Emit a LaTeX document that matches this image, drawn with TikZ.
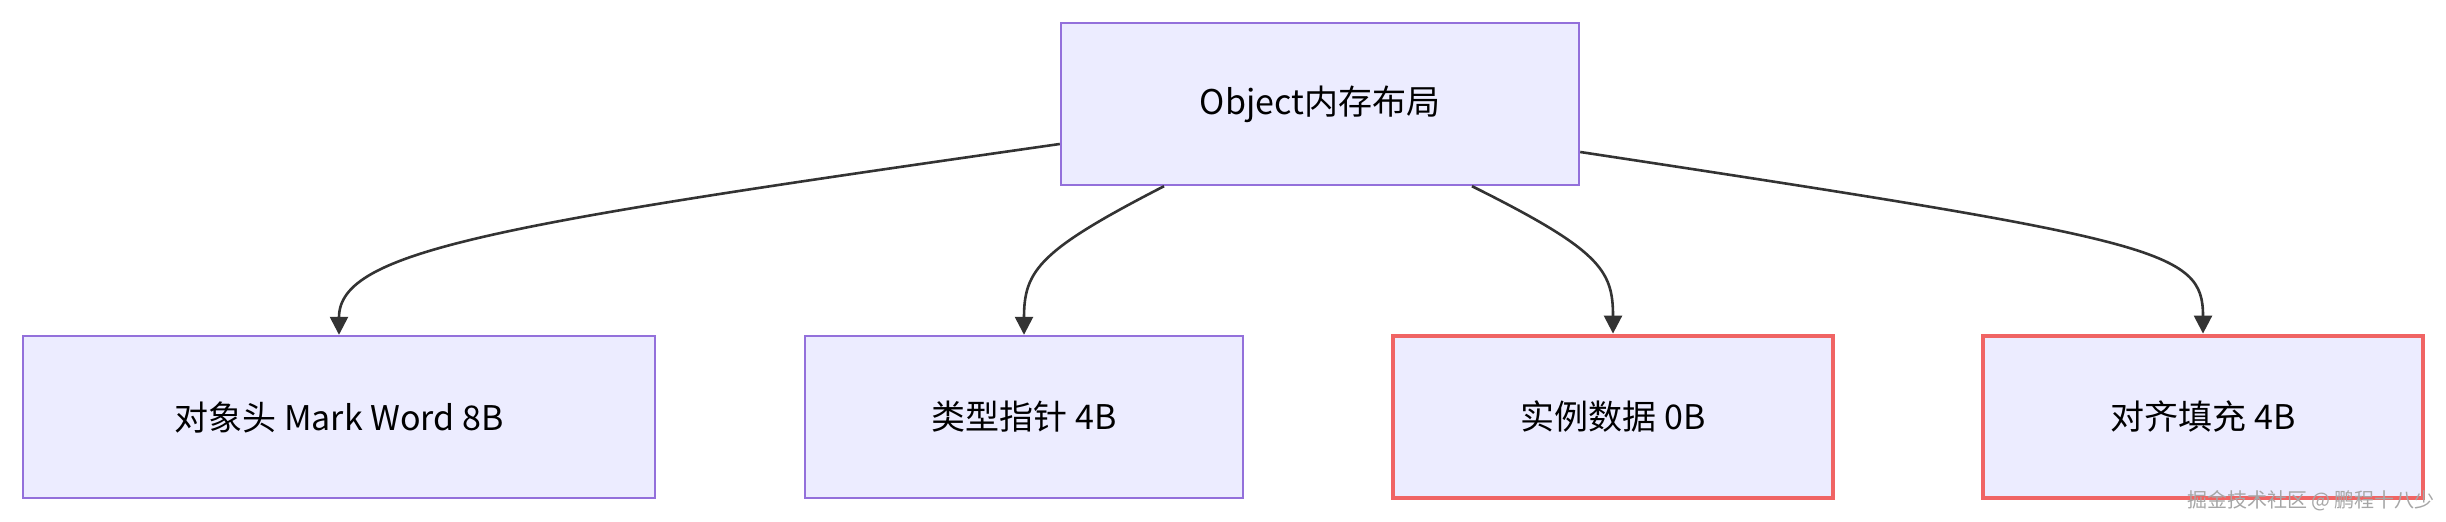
\documentclass[tikz,border=0pt]{standalone}
\usepackage{fontspec}
\setmainfont{Noto Sans CJK SC}
\usetikzlibrary{arrows.meta}
\begin{document}
\begin{tikzpicture}[x=1pt,y=1pt,
  box/.style={draw=violet!60!blue!60, draw={rgb,255:red,147;green,112;blue,219}, fill={rgb,255:red,236;green,236;blue,255}, line width=1.2pt, minimum height=81pt, inner sep=0pt, font=\fontsize{17}{20}\selectfont},
  hot/.style={box, draw={rgb,255:red,240;green,100;blue,100}, line width=2.4pt},
  edge/.style={draw={rgb,255:red,51;green,51;blue,51}, line width=1.3pt, -{Triangle[length=9pt,width=9pt]}}]
\useasboundingbox (0,0) rectangle (1223,-261);
\node[box, minimum width=259pt] (top) at (660,-52) {Object内存布局};
\node[box, minimum width=316pt] (a) at (169.5,-208.5) {对象头 Mark Word 8B};
\node[box, minimum width=219pt] (b) at (512,-208.5) {类型指针 4B};
\node[hot, minimum width=220pt] (c) at (806.5,-208.5) {实例数据 0B};
\node[hot, minimum width=220pt] (d) at (1101.5,-208.5) {对齐填充 4B};
\draw[edge] ([yshift=-20pt]top.west) .. controls (250,-112) and (169.5,-125) .. (a.north);
\draw[edge] ([xshift=-78pt]top.south) .. controls (520,-125) and (512,-135) .. (b.north);
\draw[edge] ([xshift=76pt]top.south) .. controls (800,-125) and (806.5,-135) .. (c.north);
\draw[edge] ([yshift=-24pt]top.east) .. controls (1080,-120) and (1101.5,-125) .. (d.north);
\node[text=gray!70, font=\fontsize{10}{12}\selectfont, anchor=south east] (wm) at (1221,-259) {掘金技术社区 @ 鹏程十八少};
\end{tikzpicture}
\end{document}
